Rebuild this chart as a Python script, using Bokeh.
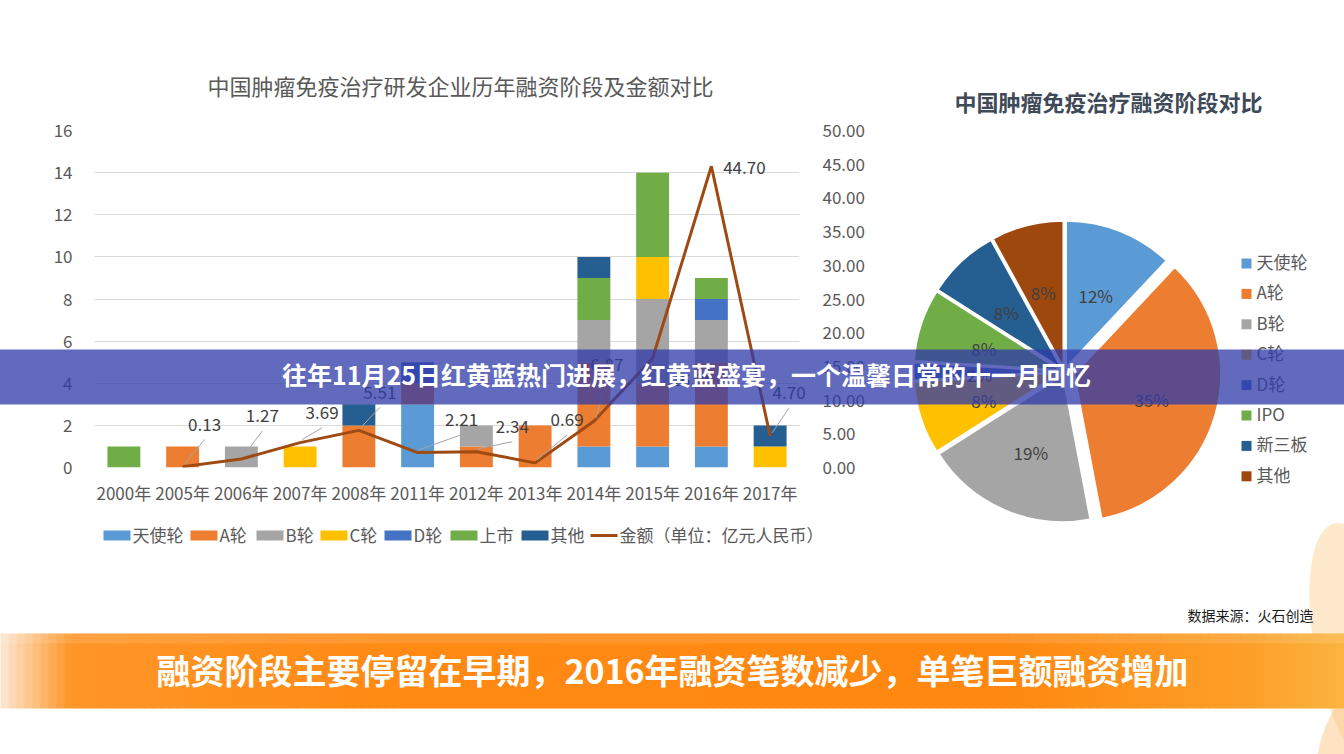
import numpy as np
from bokeh.plotting import figure
from bokeh.models import (ColumnDataSource, Range1d, LinearAxis, NumeralTickFormatter, FixedTicker)
from bokeh.core.properties import value
from bokeh.embed import file_html
from bokeh.resources import INLINE

# ---------------- data ----------------
years = ["2000年", "2005年", "2006年", "2007年", "2008年", "2011年",
         "2012年", "2013年", "2014年", "2015年", "2016年", "2017年"]
angel   = [0, 0, 0, 0, 0, 3, 0, 0, 1, 1, 1, 0]
round_a = [0, 1, 0, 0, 2, 1, 1, 2, 4, 3, 4, 0]
round_b = [0, 0, 1, 0, 0, 0, 1, 0, 2, 4, 2, 0]
round_c = [0, 0, 0, 1, 0, 0, 0, 0, 0, 2, 0, 1]
round_d = [0, 0, 0, 0, 0, 1, 0, 0, 0, 0, 1, 0]
listed  = [1, 0, 0, 0, 0, 0, 0, 0, 2, 4, 1, 0]
others  = [0, 0, 0, 0, 1, 0, 0, 0, 1, 0, 0, 1]
amount  = [None, 0.13, 1.27, 3.69, 5.51, 2.21, 2.34, 0.69, 6.87, 16.20, 44.70, 4.70]

bar_series = ["天使轮", "A轮", "B轮", "C轮", "D轮", "上市", "其他"]
line_series = "金额（单位：亿元人民币）"
left_ticks = [0, 2, 4, 6, 8, 10, 12, 14, 16]
right_ticks = [0, 5, 10, 15, 20, 25, 30, 35, 40, 45, 50]

pie_stages = ["天使轮", "A轮", "B轮", "C轮", "D轮", "IPO", "新三板", "其他"]
pie_share = [12, 35, 19, 8, 2, 8, 8, 8]

bar_title = "中国肿瘤免疫治疗研发企业历年融资阶段及金额对比"
pie_title = "中国肿瘤免疫治疗融资阶段对比"
banner_text = "往年11月25日红黄蓝热门进展，红黄蓝盛宴，一个温馨日常的十一月回忆"
bottom_text = "融资阶段主要停留在早期，2016年融资笔数减少，单笔巨额融资增加"
source_text = "数据来源：火石创造"

# ---------------- styles / layout ----------------
FONT = "Noto Sans CJK SC"
W, H = 1344, 754
FL, FR, FT, FB = 94, 545, 130, 287
FW, FH = W - FL - FR, H - FT - FB
PX_CAT = FW / len(years)
PX_AMT = FH / 50.0

bar_colors = ["#5B9BD5", "#ED7D31", "#A5A5A5", "#FFC000", "#4472C4", "#70AD47", "#255E91"]
pie_colors = ["#5B9BD5", "#ED7D31", "#A5A5A5", "#FFC000", "#4472C4", "#70AD47", "#255E91", "#9E480E"]
line_color = "#9E4A13"
txt_gray = "#595959"

def fx(sx):
    return sx

def fy(sy):
    return H - sy

xpos = list(range(1, len(years) + 1))

p = figure(width=W, height=H, x_range=Range1d(0.5, len(years) + 0.5), y_range=Range1d(0, 16),
           output_backend="svg", toolbar_location=None, title=None,
           min_border_left=FL, min_border_right=FR, min_border_top=FT, min_border_bottom=FB)
p.outline_line_color = None
p.background_fill_color = "white"
p.border_fill_color = "white"
p.extra_y_ranges = {"amt": Range1d(0, 50), "cy": Range1d(FB, FB + FH)}
p.extra_x_ranges = {"cx": Range1d(FL, FL + FW)}

# axes
for ax in [p.yaxis[0], p.xaxis[0]]:
    ax.axis_line_color = None
    ax.major_tick_line_color = None
    ax.minor_tick_line_color = None
    ax.major_label_text_font = FONT
    ax.major_label_text_font_size = "17px"
    ax.major_label_text_color = txt_gray
p.yaxis[0].ticker = FixedTicker(ticks=left_ticks)
p.yaxis[0].major_label_standoff = 16
p.xaxis[0].ticker = FixedTicker(ticks=xpos)
p.xaxis[0].major_label_overrides = {i: y for i, y in zip(xpos, years)}
p.xaxis[0].major_label_standoff = 6
p.xgrid.grid_line_color = None
p.ygrid.ticker = FixedTicker(ticks=left_ticks)
p.ygrid.grid_line_color = "#D9D9D9"

rax = LinearAxis(y_range_name="amt", ticker=FixedTicker(ticks=right_ticks),
                 formatter=NumeralTickFormatter(format="0.00"))
rax.axis_line_color = None
rax.major_tick_line_color = None
rax.minor_tick_line_color = None
rax.major_label_text_font = FONT
rax.major_label_text_font_size = "17px"
rax.major_label_text_color = txt_gray
rax.major_label_standoff = 17
p.add_layout(rax, "right")

# stacked bars
src = ColumnDataSource(dict(x=xpos, angel=angel, round_a=round_a, round_b=round_b,
                            round_c=round_c, round_d=round_d, listed=listed, others=others))
stack_cols = ["angel", "round_a", "round_b", "round_c", "round_d", "listed", "others"]
bars = p.vbar_stack(stack_cols, x="x", width=0.56, fill_color=bar_colors,
                    line_color=None, source=src)

# amount line
amt = np.array([np.nan if v is None else v for v in amount], dtype=float)
lsrc = ColumnDataSource(dict(x=xpos, amt=amt))
line_r = p.line("x", "amt", source=lsrc, y_range_name="amt",
                line_color=line_color, line_width=3)

# data labels with leader lines (offsets in px are styling)
lbl_dx = [22, 21, 22, 21, 44, 36, 32, 13, 40, 33, 19]
lbl_dy = [-41, -42, -29, -37, -32, -24, -42, -56, 22, 2, -42]
lx, ly, lt, sx0, sy0, sx1, sy1 = [], [], [], [], [], [], []
for xp, v, dx, dy in zip(xpos[1:], amount[1:], lbl_dx, lbl_dy):
    lx.append(xp + dx / PX_CAT)
    ly.append(v - (dy - 1) / PX_AMT)
    lt.append(f"{v:.2f}")
    if dy < -20:
        sx0.append(xp + 2 / PX_CAT)
        sy0.append(v + 3 / PX_AMT)
        sx1.append(xp + dx / PX_CAT)
        sy1.append(v - (dy + 14) / PX_AMT)
p.segment(x0=sx0, y0=sy0, x1=sx1, y1=sy1, y_range_name="amt",
          line_color="#A6A6A6", line_width=1, level="overlay")
p.text(x=lx, y=ly, text=lt, y_range_name="amt", text_font=value(FONT),
       text_font_size="17px", text_color="#404040", text_align="center",
       text_baseline="middle", level="overlay")

OV = dict(x_range_name="cx", y_range_name="cy", level="overlay")

# bar legend (drawn below the plot frame)
leg_x = [103, 190, 256, 320, 384, 450, 521]
leg_line_x = 590
leg_y = fy(535)
p.rect(x=[fx(v + 13.5) for v in leg_x], y=[leg_y] * len(leg_x), width=27, height=10,
       fill_color=bar_colors, line_color=None, **OV)
p.segment(x0=[fx(leg_line_x)], y0=[leg_y], x1=[fx(leg_line_x + 27)], y1=[leg_y],
          line_color=line_color, line_width=3, **OV)
p.text(x=[fx(v + 29) for v in leg_x + [leg_line_x]], y=[leg_y + 1] * (len(leg_x) + 1),
       text=bar_series + [line_series], text_font=value(FONT), text_font_size="17px",
       text_color=txt_gray, text_align="left", text_baseline="middle", **OV)

# bar chart title
p.text(x=[fx(460)], y=[fy(84)], text=[bar_title], text_font=value(FONT),
       text_font_size="22px", text_color=txt_gray, text_align="center",
       text_baseline="middle", **OV)

# ---------------- pie ----------------
share = np.array(pie_share, dtype=float) / float(sum(pie_share))
cum = np.cumsum(share)
starts = np.pi / 2 - 2 * np.pi * (cum - share)
ends = np.pi / 2 - 2 * np.pi * cum
mids = (starts + ends) / 2
explode = np.array([4, 10, 4, 4, 4, 4, 4, 4], dtype=float)
PCX, PCY, PR = fx(1064), fy(371), 147
wx = PCX + explode * np.cos(mids)
wy = PCY + explode * np.sin(mids)
psrc = ColumnDataSource(dict(x=wx, y=wy, s=starts, e=ends, c=pie_colors))
p.wedge(x="x", y="y", radius=PR, start_angle="s", end_angle="e", direction="clock",
        fill_color="c", line_color="white", line_width=2, source=psrc, **OV)
p.text(x=wx + 0.55 * PR * np.cos(mids), y=wy + 0.55 * PR * np.sin(mids) - 3,
       text=[f"{v}%" for v in pie_share], text_font=value(FONT), text_font_size="17px",
       text_color="#404040", text_align="center", text_baseline="middle", **OV)

# pie title
p.text(x=[fx(1108)], y=[fy(100)], text=[pie_title], text_font=value(FONT),
       text_font_size="22px", text_font_style="bold", text_color="#3F4A59",
       text_align="center", text_baseline="middle", **OV)

# pie legend
rows = np.arange(len(pie_stages))
ly0 = fy(263) - rows * 30.4
p.rect(x=[fx(1246)] * len(pie_stages), y=ly0, width=10, height=10,
       fill_color=pie_colors, line_color=None, **OV)
p.text(x=[fx(1256)] * len(pie_stages), y=ly0 + 2, text=pie_stages, text_font=value(FONT),
       text_font_size="17px", text_color=txt_gray, text_align="left",
       text_baseline="middle", **OV)

# decorative shapes bottom right
p.ellipse(x=[fx(1360)], y=[fy(650)], width=90, height=260, angle=0.2,
          fill_color="#FDD39A", fill_alpha=0.5, line_color=None, **OV)
p.ellipse(x=[fx(1350)], y=[fy(745)], width=60, height=120, angle=-0.3,
          fill_color="#FCC27A", fill_alpha=0.45, line_color=None, **OV)

# ---------------- banners ----------------
p.quad(left=[-10], right=[W + 10], top=[fy(349)], bottom=[fy(404)],
       fill_color="#313BA9", fill_alpha=0.76, line_color=None, **OV)
p.text(x=[fx(686)], y=[fy(373)], text=[banner_text], text_font=value(FONT),
       text_font_size="25px", text_font_style="bold", text_color="white",
       text_align="center", text_baseline="middle", **OV)

# bottom orange banner (horizontal colour gradient made of strips)
stops_x = [0, 70, 400, 1000, 1250, 1344]
stops_rgb = [(252, 232, 212), (255, 150, 40), (255, 138, 20), (255, 136, 16),
             (253, 160, 42), (251, 181, 64)]
edges = np.arange(0, 1345, 8)
lefts, rights, cols = [], [], []
for a, b in zip(edges[:-1], edges[1:]):
    m = (a + b) / 2
    rgb = [int(np.interp(m, stops_x, [c[k] for c in stops_rgb])) for k in range(3)]
    lefts.append(fx(a))
    rights.append(fx(b) + 0.6)
    cols.append("#%02x%02x%02x" % tuple(rgb))
p.quad(left=lefts, right=rights, top=[fy(633)] * len(lefts), bottom=[fy(708)] * len(lefts),
       fill_color=cols, line_color=None, **OV)
p.quad(left=[-10], right=[W + 10], top=[fy(633)], bottom=[fy(643)],
       fill_color="white", fill_alpha=0.12, line_color=None, **OV)
p.text(x=[fx(672)], y=[fy(669)], text=[bottom_text], text_font=value(FONT),
       text_font_size="34px", text_font_style="bold", text_color="white",
       text_align="center", text_baseline="middle", **OV)
p.text(x=[fx(1313)], y=[fy(614)], text=[source_text], text_font=value(FONT),
       text_font_size="14px", text_color="#1A1A1A", text_align="right",
       text_baseline="middle", **OV)

open("out.html", "w").write(file_html(p, INLINE))
